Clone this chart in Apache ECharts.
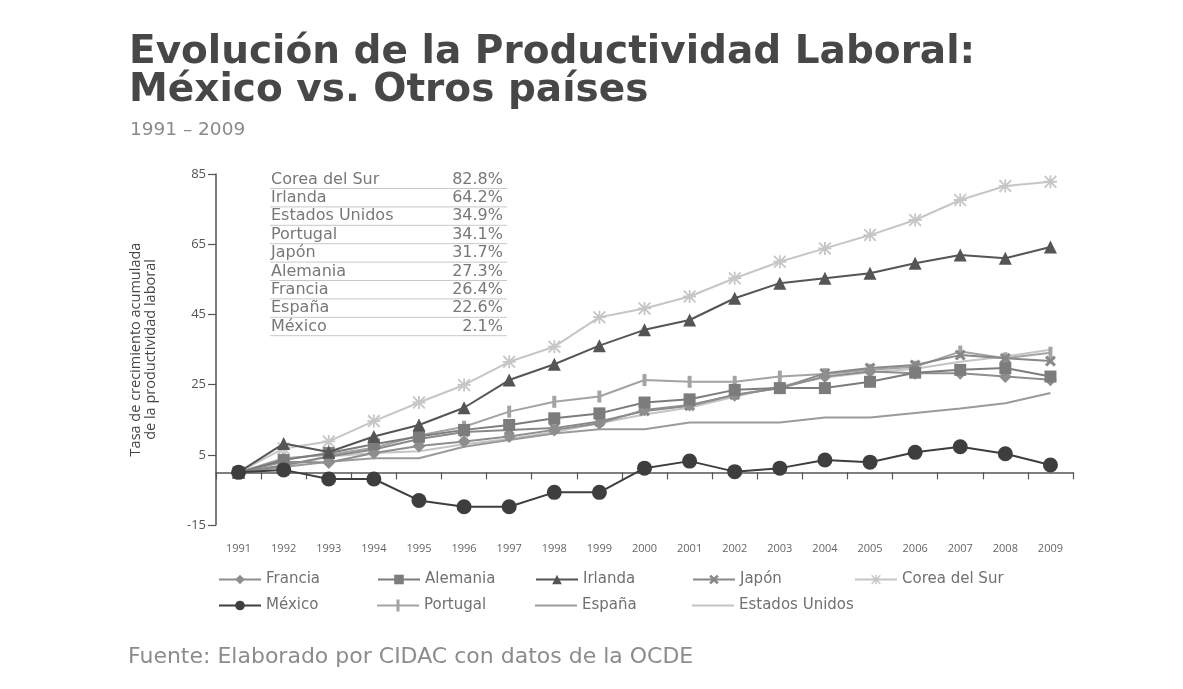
<!DOCTYPE html>
<html>
<head>
<meta charset="utf-8">
<script src="https://cdn.jsdelivr.net/npm/echarts@6/dist/echarts.min.js"></script>
<style>
html,body{margin:0;padding:0;background:#fff;}
#chart{width:1183px;height:689px;}
</style>
</head>
<body>
<div id="chart"></div>
<script>
// ---------- DATA ----------
const years = ['1991','1992','1993','1994','1995','1996','1997','1998','1999','2000','2001','2002','2003','2004','2005','2006','2007','2008','2009'];
const francia  = [0, 3.0, 2.8, 5.5, 7.5, 8.8, 10.2, 12.1, 14.0, 17.8, 19.2, 22.0, 24.0, 27.3, 28.7, 28.2, 28.2, 27.3, 26.4];
const alemania = [0, 3.5, 5.5, 8.0, 10.2, 12.1, 13.5, 15.4, 16.8, 19.9, 20.8, 23.5, 24.0, 24.0, 25.8, 28.4, 29.2, 29.7, 27.3];
const irlanda  = [0, 8.2, 5.8, 10.2, 13.5, 18.4, 26.3, 30.8, 36.1, 40.6, 43.4, 49.6, 53.9, 55.3, 56.7, 59.6, 61.9, 61.0, 64.2];
const japon    = [0, 2.0, 4.5, 6.5, 9.5, 11.5, 12.1, 12.6, 14.5, 17.5, 19.0, 22.1, 24.0, 28.2, 29.7, 30.6, 33.4, 32.5, 31.7];
const corea    = [0, 6.8, 8.8, 14.6, 19.9, 24.9, 31.5, 35.8, 44.2, 46.7, 50.1, 55.3, 60.0, 63.8, 67.6, 71.9, 77.6, 81.6, 82.8];
const mexico   = [0, 0.7, -1.9, -1.9, -8.0, -9.8, -9.8, -5.7, -5.7, 1.2, 3.2, 0.2, 1.2, 3.5, 2.9, 5.7, 7.3, 5.3, 2.1];
const portugal = [0, 4.0, 5.0, 7.0, 10.5, 13.0, 17.3, 20.1, 21.6, 26.3, 25.8, 25.8, 27.3, 28.0, 29.2, 30.1, 34.4, 32.5, 34.1];
const espana   = [0, 1.5, 3.0, 4.0, 4.0, 7.3, 9.2, 11.1, 12.3, 12.3, 14.2, 14.2, 14.2, 15.6, 15.6, 16.9, 18.2, 19.7, 22.6];
const eeuu     = [0, 1.5, 4.5, 5.5, 6.0, 8.0, 9.5, 11.5, 14.0, 16.5, 18.5, 21.5, 24.5, 27.0, 28.5, 29.5, 31.5, 33.0, 34.9];

const tableNames  = ['Corea del Sur','Irlanda','Estados Unidos','Portugal','Japón','Alemania','Francia','España','México'];
const tableValues = ['82.8%','64.2%','34.9%','34.1%','31.7%','27.3%','26.4%','22.6%','2.1%'];

// ---------- CHART ----------
const chart = echarts.init(document.getElementById('chart'));
const F = "'Open Sans', 'Noto Sans', sans-serif";
const DV = "'DejaVu Sans', sans-serif";
const XPATH = 'path://M2,0L5,3L8,0L10,2L7,5L10,8L8,10L5,7L2,10L0,8L3,5L0,2Z';
const STAR = 'path://M4.3,0H5.7V10H4.3Z M0,4.3H10V5.7H0Z M1,0L5,4L9,0L10,1L6,5L10,9L9,10L5,6L1,10L0,9L4,5L0,1Z';
const LINEICON = 'path://M0,0L0.01,0L0,0.01Z M0,5H42V7H0Z M42,12L41.99,12L42,11.99Z';
const BARICON = 'path://M0,5H42V7H0Z M19.5,0H22.5V12H19.5Z';

function mk(name, data, color, symbol, size, z) {
  return {
    name, type:'line', data, xAxisIndex:0, yAxisIndex:0,
    symbol, symbolSize:size, showSymbol: symbol !== 'none',
    lineStyle:{color, width:2},
    itemStyle:{color, borderColor:color, borderWidth:0},
    emphasis:{disabled:true}, z: z || 2, animation:false
  };
}

const series = [
  mk('Estados Unidos', eeuu, '#c4c4c4', 'none', 0, 1),
  mk('España', espana, '#9a9a9a', 'none', 0, 1),
  mk('Portugal', portugal, '#a3a3a3', 'rect', [4,12], 2),
  mk('Corea del Sur', corea, '#c6c6c6', STAR, 13, 2),
  mk('Japón', japon, '#888888', XPATH, 11, 3),
  mk('Francia', francia, '#8e8e8e', 'diamond', 13, 3),
  mk('Alemania', alemania, '#7c7c7c', 'rect', 12, 3),
  mk('Irlanda', irlanda, '#555555', 'triangle', 13, 4),
  mk('México', mexico, '#3e3e3e', 'circle', 15, 5)
];

// legend: [name, text-start x, row top]
const legPos = [
  ['Francia',265,572],['Alemania',424,572],['Irlanda',582,572],['Japón',739,572],['Corea del Sur',901,572],
  ['México',265,598],['Portugal',424,598],['España',582,598],['Estados Unidos',739,598]
];
const legends = legPos.map(p => {
  let item = p[0];
  if (p[0] === 'España' || p[0] === 'Estados Unidos') item = {name:p[0], icon:LINEICON};
  if (p[0] === 'Portugal') item = {name:p[0], icon:BARICON};
  return {
    data:[item],
    left:p[1]-47, top:p[2], itemWidth:42, itemHeight:12, itemGap:0, padding:0,
    selectedMode:false,
    textStyle:{fontFamily:DV, fontSize:15, color:'#707070'}
  };
});

const graphic = [];
tableNames.forEach((n,i) => {
  const cy = 179.5 + 18.4*i;
  graphic.push({type:'text', x:271, y:cy, silent:true,
    style:{text:n, fontFamily:DV, fontSize:16, fill:'#787878', verticalAlign:'middle', align:'left'}});
  graphic.push({type:'text', x:503, y:cy, silent:true,
    style:{text:tableValues[i], fontFamily:DV, fontSize:16, fill:'#787878', verticalAlign:'middle', align:'right'}});
  graphic.push({type:'line', silent:true, shape:{x1:270, y1:cy+9, x2:507, y2:cy+9},
    style:{stroke:'#c8c8c8', lineWidth:1}});
});

const option = {
  backgroundColor:'#ffffff',
  animation:false,
  title:[
    {text:'Evolución de la Productividad Laboral:\nMéxico vs. Otros países', left:124, top:29,
     textStyle:{fontFamily:DV, fontWeight:'bold', fontSize:39, lineHeight:38, color:'#474747'}},
    {text:'1991 – 2009', left:125, top:115,
     textStyle:{fontFamily:DV, fontWeight:'normal', fontSize:18.5, lineHeight:20, color:'#8a8a8a'}},
    {text:'Fuente: Elaborado por CIDAC con datos de la OCDE', left:123, top:640,
     textStyle:{fontFamily:DV, fontWeight:'normal', fontSize:22, lineHeight:24, color:'#8c8c8c'}}
  ],
  grid:{left:216, right:110, top:174, bottom:164},
  legend: legends,
  xAxis:[
    {type:'category', data:years, boundaryGap:true,
     axisLine:{show:true, onZero:true, lineStyle:{color:'#555', width:1.5}},
     axisTick:{show:true, length:7, lineStyle:{color:'#555', width:1.2}},
     axisLabel:{show:false}, splitLine:{show:false}},
    {type:'category', data:years, position:'bottom', boundaryGap:true,
     axisLine:{show:false, onZero:false}, axisTick:{show:false},
     axisLabel:{show:true, margin:18, fontFamily:F, fontSize:11, color:'#666'}, splitLine:{show:false}}
  ],
  yAxis:{type:'value', min:-15, max:85, interval:20,
    axisLine:{show:true, lineStyle:{color:'#555', width:1.5}},
    axisTick:{show:true, length:8, lineStyle:{color:'#555', width:1.2}},
    axisLabel:{fontFamily:F, fontSize:13, color:'#555', margin:10},
    splitLine:{show:false},
    name:'Tasa de crecimiento acumulada\nde la productividad laboral',
    nameLocation:'middle', nameRotate:90, nameGap:58,
    nameTextStyle:{fontFamily:"'Liberation Sans Narrow', 'Open Sans', sans-serif", fontSize:14.5, lineHeight:15, color:'#444'}
  },
  graphic: graphic,
  series: series
};
chart.setOption(option);
</script>
</body>
</html>
